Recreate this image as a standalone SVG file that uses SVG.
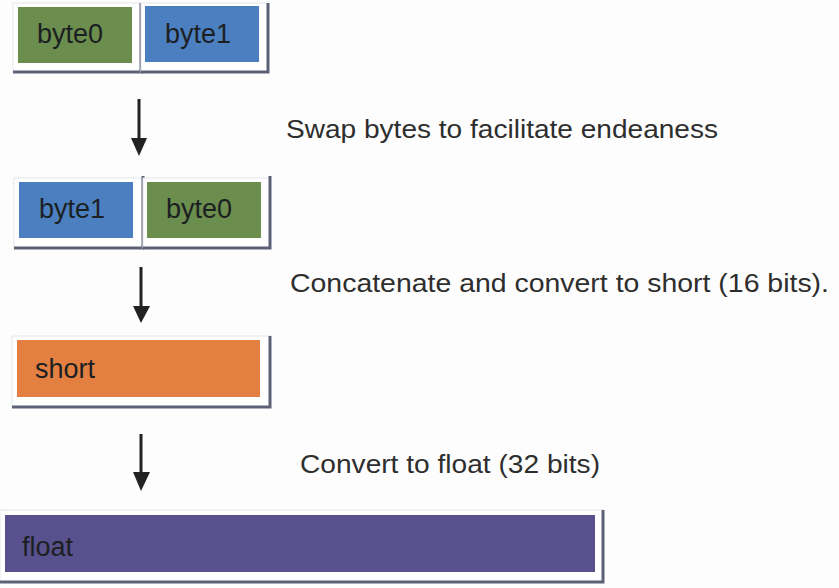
<svg xmlns="http://www.w3.org/2000/svg" width="839" height="588" viewBox="0 0 839 588">
  <style>
    .frame { fill: #ffffff; stroke: #e4e6ea; stroke-width: 1; }
    .shadow { stroke: #5c6178; stroke-width: 3; fill: none; }
    .green { fill: #6b8d4d; }
    .blue { fill: #4b7fc0; }
    .orange { fill: #e27f41; }
    .purple { fill: #59508e; }
    .lbl { font-family: "Liberation Sans", Arial, sans-serif; font-size: 27px; fill: #1c1f22; }
    .note { font-family: "Liberation Sans", Arial, sans-serif; font-size: 26px; fill: #2e2e2e; }
    .shaft { stroke: #222222; stroke-width: 3; }
    .head { fill: #222222; }
  </style>
  <rect x="0" y="0" width="839" height="588" fill="#fdfdfd"/>

  <!-- row 1: original byte order -->
  <g id="row1-byte0">
    <rect class="frame" x="13" y="3" width="128" height="69"/>
    <rect class="green" x="18" y="7" width="114" height="56"/>
    <polyline class="shadow" points="13,72 141,72 141,3"/>
    <text class="lbl" x="37" y="43">byte0</text>
  </g>
  <g id="row1-byte1">
    <rect class="frame" x="141" y="3" width="127" height="69"/>
    <rect class="blue" x="145" y="6" width="114" height="56"/>
    <polyline class="shadow" points="141,72 268,72 268,3"/>
    <text class="lbl" x="165" y="43">byte1</text>
  </g>

  <!-- row 2: swapped byte order -->
  <g id="row2-byte1">
    <rect class="frame" x="14" y="178" width="129" height="70"/>
    <rect class="blue" x="19" y="182" width="114" height="56"/>
    <polyline class="shadow" points="14,248 143,248 143,176"/>
    <text class="lbl" x="39" y="218">byte1</text>
  </g>
  <g id="row2-byte0">
    <rect class="frame" x="143" y="178" width="127" height="70"/>
    <rect class="green" x="147" y="182" width="114" height="56"/>
    <polyline class="shadow" points="143,248 270,248 270,176"/>
    <text class="lbl" x="166" y="218">byte0</text>
  </g>

  <!-- short value -->
  <g id="short">
    <rect class="frame" x="12" y="336" width="258" height="71"/>
    <rect class="orange" x="17" y="340" width="243" height="57"/>
    <polyline class="shadow" points="12,407 270,407 270,336"/>
    <text class="lbl" x="35" y="378">short</text>
  </g>

  <!-- float value -->
  <g id="float">
    <rect class="frame" x="0" y="510" width="603" height="72"/>
    <rect class="purple" x="5" y="515" width="590" height="57"/>
    <polyline class="shadow" points="0,582 603,582 603,510"/>
    <text class="lbl" x="22" y="556">float</text>
  </g>

  <!-- connectors -->
  <g id="connectors">
    <line class="shaft" x1="139" y1="99" x2="139" y2="140"/>
    <polygon class="head" points="131,138 147,138 139,156"/>
    <line class="shaft" x1="141" y1="267" x2="141" y2="308"/>
    <polygon class="head" points="133,306 150,306 141,323"/>
    <line class="shaft" x1="141" y1="434" x2="141" y2="474"/>
    <polygon class="head" points="133,472 150,472 141,491"/>
  </g>

  <!-- step descriptions -->
  <g id="notes">
    <text class="note" x="286" y="138" textLength="432" lengthAdjust="spacingAndGlyphs">Swap bytes to facilitate endeaness</text>
    <text class="note" x="290" y="292" textLength="539" lengthAdjust="spacingAndGlyphs">Concatenate and convert to short (16 bits).</text>
    <text class="note" x="300" y="473" textLength="300" lengthAdjust="spacingAndGlyphs">Convert to float (32 bits)</text>
  </g>
</svg>
